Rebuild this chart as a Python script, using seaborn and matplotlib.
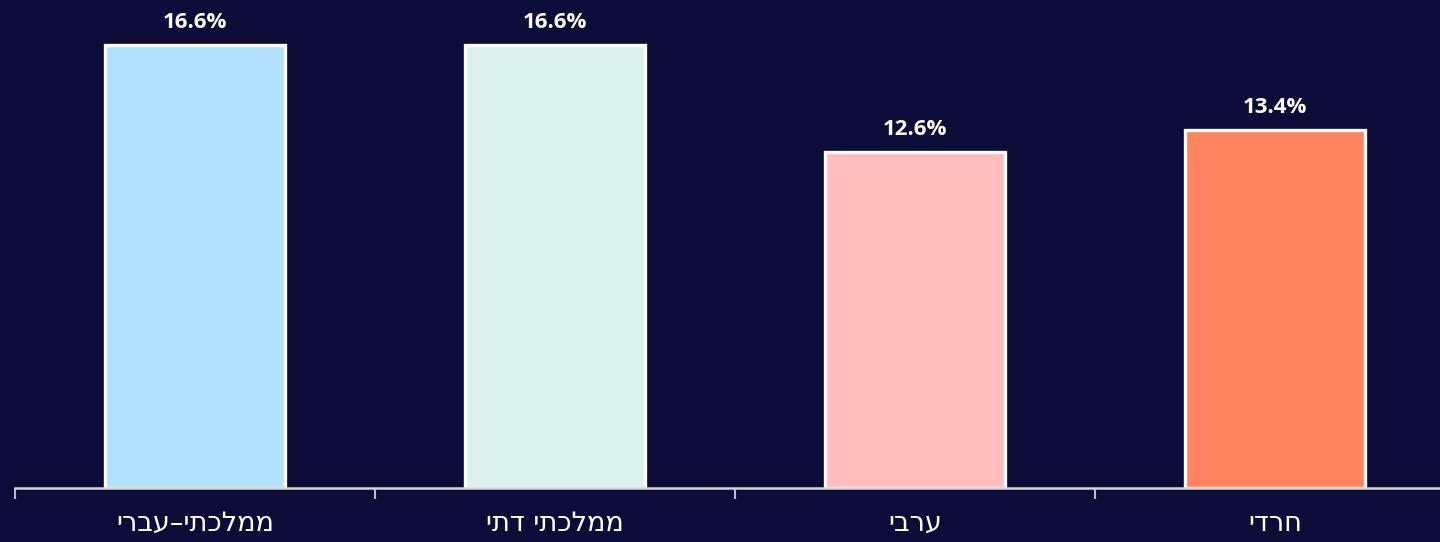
import matplotlib
matplotlib.use("Agg")
import matplotlib.pyplot as plt
import pandas as pd
import seaborn as sns

# נתונים
categories = ["ממלכתי–עברי", "ממלכתי דתי", "ערבי", "חרדי"]
values = [16.6, 16.6, 12.6, 13.4]
colors = ["#b1e1ff", "#dbf1ee", "#ffbdbd", "#ff845f"]

BG = "#0b0c38"

sns.set_theme(style="white")
plt.rcParams["font.family"] = ["Open Sans", "DejaVu Sans"]

# matplotlib draws left-to-right, so Hebrew text is reversed for display
df = pd.DataFrame({"cat": [c[::-1] for c in categories], "val": values})

fig = plt.figure(figsize=(14.4, 5.42), dpi=100, facecolor=BG)
ax = fig.add_axes([15 / 1440, 1 - 488 / 542, 1.0, 488 / 542])
ax.set_facecolor(BG)

sns.barplot(data=df, x="cat", y="val", hue="cat", palette=colors,
            saturation=1, legend=False, width=0.5, edgecolor="white",
            linewidth=2.4, ax=ax)

ax.set_xlim(-0.5, 3.5)
ax.set_ylim(0, 18.28)

for i, v in enumerate(values):
    ax.annotate(f"{v:.1f}%", (i, v), xytext=(0, 8.5), textcoords="offset points",
                ha="center", va="bottom", color="white", fontsize=16,
                fontweight="bold")

for s in ["top", "right", "left"]:
    ax.spines[s].set_visible(False)
ax.spines["bottom"].set_color("#d4d4d4")
ax.spines["bottom"].set_linewidth(1.8)

ax.set_yticks([])
ax.set_xlabel("")
ax.set_ylabel("")
ax.tick_params(axis="x", which="major", bottom=True, length=0, pad=16.5,
               labelsize=19.5, labelcolor="white")
for lab in ax.get_xticklabels():
    lab.set_family(["DejaVu Sans"])
ax.set_xticks([-0.5, 0.5, 1.5, 2.5], minor=True)
ax.tick_params(axis="x", which="minor", bottom=True, direction="out",
               length=8, width=1.5, color="#bbbbbb")

fig.savefig("out.png", dpi=100, facecolor=BG)
